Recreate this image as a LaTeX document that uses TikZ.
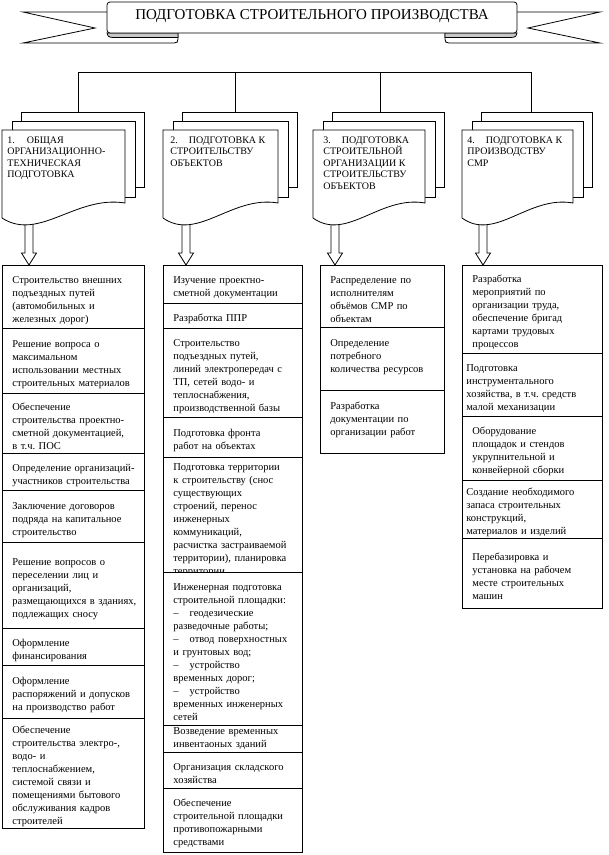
\documentclass[tikz,border=0pt]{standalone}
\usepackage{fontspec}
\setmainfont{Liberation Serif}

\newcommand\bxfont{\fontsize{10.5}{13}\selectfont\frenchspacing}
\newcommand\hdfont{\fontsize{10}{11.5}\selectfont}

\begin{document}
\begin{tikzpicture}[x=1pt,y=-1pt,line width=0.8pt,
  bx0/.style={draw,fill=white,anchor=north west,align=left,inner xsep=4pt,inner ysep=0pt,font=\bxfont},
  bx/.style={bx0,execute at begin node={\leftskip=6pt\relax\rule{0pt}{13.5pt}}},
  c1/.style={bx,text width=134pt},c2/.style={bx,text width=131pt},c3/.style={bx,text width=116pt},
  c4/.style={bx,text width=132pt},c4n/.style={bx0,text width=132pt,execute at begin node={\rule{0pt}{13.5pt}}},
  sheet/.style={draw,fill=white,anchor=north west,inner sep=0pt},
  hd/.style={anchor=north west,align=left,inner sep=0pt,font=\hdfont},
  fold/.style={draw,fill=black!22}]
\useasboundingbox (0,0) rectangle (609,855);

% title ribbon
\draw[fill=white] (107,12) -- (23,12) -- (95,28) -- (23,43) -- (174,43) .. controls (177,43) and (178,42) .. (178,39) -- (178,33);
\draw[fill=white] (517,12) -- (600,12) -- (528,28) -- (600,43) -- (449,43) .. controls (446,43) and (445,42) .. (445,39) -- (445,33);
\draw[fold] (178,33) -- (178,37.5) -- (113,37.5) .. controls (108,37.5) and (107,35) .. (107,33) -- cycle;
\draw[fold] (445,33) -- (445,37.5) -- (511,37.5) .. controls (516,37.5) and (517,35) .. (517,33) -- cycle;
\draw[fill=white,rounded corners=3pt] (107,2) rectangle (517,33);
\node[font=\fontsize{15}{18}\selectfont] (title) at (312,16) {ПОДГОТОВКА СТРОИТЕЛЬНОГО ПРОИЗВОДСТВА};

% column 1
\node[c1,minimum height=63pt] (p1) at (2,265) {Строительство внешних\\подъездных путей\\(автомобильных и\\железных дорог)};
\node[c1,minimum height=65pt] (p2) at (2,328) {Решение вопроса о\\максимальном\\использовании местных\\строительных материалов};
\node[c1,minimum height=60pt] (p3) at (2,393) {Обеспечение\\строительства проектно-\\сметной документацией,\\в т.ч. ПОС};
\node[c1,minimum height=37pt] (p4) at (2,453) {Определение организаций-\\участников строительства};
\node[c1,minimum height=52pt] (p5) at (2,490) {Заключение договоров\\подряда на капитальное\\строительство};
\node[c1,minimum height=86pt] (p6) at (2,542) {Решение вопросов о\\переселении лиц и\\организаций,\\размещающихся в зданиях,\\подлежащих сносу};
\node[c1,minimum height=37pt] (p7) at (2,628) {Оформление\\финансирования};
\node[c1,minimum height=53pt] (p8) at (2,665) {Оформление\\распоряжений и допусков\\на производство работ};
\node[c1,minimum height=110pt] (p9) at (2,718) {Обеспечение\\строительства электро-,\\водо- и\\теплоснабжением,\\системой связи и\\помещениями бытового\\обслуживания кадров\\строителей};

% column 2
\node[c2,minimum height=38pt] (q1) at (163,265) {Изучение проектно-\\сметной документации};
\node[c2,minimum height=25pt] (q2) at (163,303) {Разработка ППР};
\node[c2,minimum height=89pt] (q3) at (163,328) {Строительство\\подъездных путей,\\линий электропередач с\\ТП, сетей водо- и\\теплоснабжения,\\производственной базы};
\node[c2,minimum height=40pt] (q4) at (163,417) {Подготовка фронта\\работ на объектах};
\node[c2] (q5) at (163,457) {Подготовка территории\\к строительству (снос\\существующих\\строений, перенос\\инженерных\\коммуникаций,\\расчистка застраиваемой\\территории), планировка\\территории};
\node[c2,minimum height=153pt] (q6) at (163,572) {Инженерная подготовка\\строительной площадки:\\–\hspace{11pt}геодезические\\разведочные работы;\\–\hspace{11pt}отвод поверхностных\\и грунтовых вод;\\–\hspace{11pt}устройство\\временных дорог;\\–\hspace{11pt}устройство\\временных инженерных\\сетей};
\node[bx0,text width=131pt,minimum height=27pt,execute at begin node={\leftskip=6pt\relax}] (q7) at (163,725) {Возведение временных\\инвентаоных зданий};
\node[c2,minimum height=36pt] (q8) at (163,752) {Организация складского\\хозяйства};
\node[c2,minimum height=64pt] (q9) at (163,788) {Обеспечение\\строительной площадки\\противопожарными\\средствами};

% column 3
\node[c3,minimum height=62pt] (r1) at (320,265) {Распределение по\\исполнителям\\объёмов СМР по\\объектам};
\node[c3,minimum height=63pt] (r2) at (320,327) {Определение\\потребного\\количества ресурсов\\\mbox{}};
\node[c3,minimum height=63pt] (r3) at (320,390) {Разработка\\документации по\\организации работ\\\mbox{}};

% column 4
\node[c4,minimum height=88pt] (s1) at (462,265) {Разработка\\мероприятий по\\организации труда,\\обеспечение бригад\\картами трудовых\\процессов};
\node[c4n,minimum height=63pt] (s2) at (462,353) {Подготовка\\инструментального\\хозяйства, в т.ч. средств\\малой механизации};
\node[c4,minimum height=64pt] (s3) at (462,416) {Оборудование\\площадок и стендов\\укрупнительной и\\конвейерной сборки};
\node[c4n,minimum height=58pt] (s4) at (462,480) {Создание необходимого\\запаса строительных\\конструкций,\\материалов и изделий};
\node[c4,minimum height=70pt] (s5) at (462,538) {Перебазировка и\\установка на рабочем\\месте строительных\\машин};

% document stacks, arrows, tree
\foreach \i/\fl/\fr/\ax/\tx/\first in {1/2/125/29/78/p1,2/163/278/186/235/q1,3/313/425/335/380/r1,4/462/573/483/531/s1}{
  \draw[fill=white] ({\ax-4},212) -- ({\ax-4},253) -- ({\ax-7.5},253) -- (\ax,0 |- \first.north) -- ({\ax+7.5},253) -- ({\ax+4},253) -- ({\ax+4},212);
  \node[sheet,minimum width={(\fr-\fl)*1pt},minimum height=75pt] (bk\i) at ({\fl+19},112) {};
  \node[sheet,minimum width={(\fr-\fl)*1pt},minimum height=76pt] (md\i) at ({\fl+10},121) {};
  \draw[fill=white] (\fl,130) -- (\fr,130) -- (\fr,203) .. controls ({\fl+0.6*(\fr-\fl)},195) and ({\fl+0.3*(\fr-\fl)},242) .. (\fl,218) -- cycle;
  \coordinate (t\i) at (\tx,72);
  \draw (t\i) -- (t\i |- bk\i.north);
}
\draw (t1) -- (t4);

\node[hd] (h1) at (7,136) {1.\hspace{12pt}ОБЩАЯ\\ОРГАНИЗАЦИОННО-\\ТЕХНИЧЕСКАЯ\\ПОДГОТОВКА};
\node[hd] (h2) at (170,136) {2.\hspace{11pt}ПОДГОТОВКА К\\СТРОИТЕЛЬСТВУ\\ОБЪЕКТОВ};
\node[hd] (h3) at (323,136) {3.\hspace{11pt}ПОДГОТОВКА\\СТРОИТЕЛЬНОЙ\\ОРГАНИЗАЦИИ К\\СТРОИТЕЛЬСТВУ\\ОБЪЕКТОВ};
\node[hd] (h4) at (467,136) {4.\hspace{11pt}ПОДГОТОВКА К\\ПРОИЗВОДСТВУ\\СМР};
\end{tikzpicture}
\end{document}
